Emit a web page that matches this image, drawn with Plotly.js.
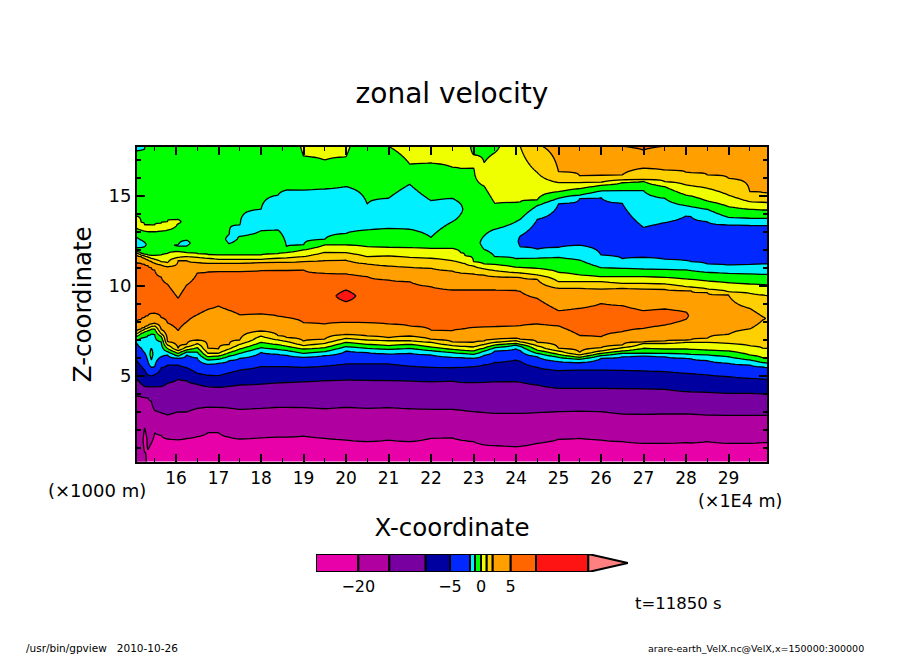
<!DOCTYPE html>
<html><head><meta charset="utf-8">
<script src="https://cdn.plot.ly/plotly-3.0.1.min.js"></script>
<style>html,body{margin:0;padding:0;background:#fff}</style></head>
<body><div id="chart" style="width:904px;height:654px"></div>
<script>
// x stations, units of 1E4 m
const stations=[15.05,15.18,15.26,15.34,15.42,15.5,15.65,15.8,16.05,16.25,16.5,16.75,17,17.25,17.5,18,18.4,18.6,19,19.5,20,20.5,21,21.5,22,22.5,22.7,22.8,23,23.25,23.5,24,24.1,24.5,25,25.5,26,26.5,27,27.5,28,28.12,28.5,29,29.5,29.8,29.95];
// contour levels of zonal velocity and their band colours
const levelValues=[-20,-15,-10,-5,-2,-1,0,1,2,5,10,20];
const bandColors=['#E800A8','#B000A0','#7800A0','#0000A0','#0028FF','#00F0FF','#00FF00','#F0FF00','#FFD000','#FF9F00','#FF6600','#FF1414','#FF8080'];
// contour-line heights (units of 1000 m) read at each station
const lineM20=[null,null,null,0.9,1.28,1.85,1.7,1.5,1.45,1.53,1.63,1.85,1.85,1.6,1.5,1.57,1.6,1.6,1.67,1.54,1.44,1.35,1.44,1.35,1.54,1.57,1.44,1.41,1.35,1.17,1.13,1.07,1.09,1.26,1.48,1.54,1.44,1.35,1.26,1.26,1.3,1.28,1.35,1.26,1.26,1.3,1.3];
const lineM15=[4.07,3.85,3.8,3.78,3.6,3.08,2.95,2.83,3.0,3.0,3.2,3.27,3.26,3.22,3.15,3.2,3.26,3.26,3.24,3.18,3.26,3.2,3.24,3.18,3.15,3.15,3.1,3.07,3.02,2.97,2.92,2.92,2.92,2.96,3.02,3.05,3.02,2.89,2.87,2.89,2.89,2.88,2.83,2.81,2.81,2.81,2.81];
const lineM10=[4.87,4.55,4.42,4.4,4.4,4.4,4.41,4.6,4.81,4.74,4.54,4.41,4.37,4.43,4.5,4.55,4.62,4.64,4.68,4.74,4.78,4.76,4.74,4.72,4.68,4.72,4.65,4.64,4.63,4.65,4.68,4.68,4.66,4.5,4.31,4.31,4.31,4.3,4.29,4.26,4.13,4.12,4.09,4.04,4.04,4.01,4.0];
const lineM5=[5.95,5.55,5.33,5.06,5.0,5.08,5.45,5.6,5.6,5.46,5.15,5.04,5.02,5.18,5.33,5.52,5.52,5.52,5.48,5.55,5.67,5.67,5.67,5.55,5.48,5.46,5.48,5.49,5.52,5.62,5.75,5.88,5.82,5.48,5.3,5.33,5.33,5.31,5.29,5.24,5.15,5.13,5.06,4.96,4.87,4.83,4.81];
const lineM2=[6.95,6.55,6.3,5.8,5.48,5.52,6.07,6.17,5.98,6.17,6.0,5.65,5.7,5.85,5.98,6.31,6.2,6.15,6.04,6.13,6.39,6.3,6.22,6.26,6.17,6.04,6.02,6.0,5.98,6.15,6.39,6.5,6.42,6.07,5.8,5.74,5.98,6.07,6.11,6.07,5.98,5.95,5.85,5.7,5.61,5.5,5.46];
const lineM1=[7.0,7.1,7.15,7.25,7.33,7.3,6.9,6.35,6.1,6.33,6.33,5.89,5.93,6.1,6.26,6.57,6.47,6.42,6.26,6.35,6.63,6.54,6.48,6.54,6.41,6.3,6.26,6.24,6.2,6.38,6.57,6.72,6.65,6.26,6.04,5.93,6.13,6.26,6.26,6.26,6.22,6.2,6.17,6.07,5.89,5.75,5.7];
const line0=[7.18,7.37,7.45,7.52,7.6,7.6,7.2,6.53,6.26,6.45,6.58,6.07,6.11,6.3,6.5,6.87,6.74,6.66,6.5,6.57,6.87,6.76,6.69,6.76,6.61,6.48,6.44,6.42,6.39,6.55,6.72,6.81,6.76,6.44,6.2,6.04,6.26,6.39,6.54,6.5,6.5,6.48,6.44,6.39,6.17,6.02,5.98];
const line1=[7.33,7.5,7.6,7.67,7.75,7.78,7.35,6.72,6.41,6.62,6.8,6.26,6.26,6.5,6.76,7.22,7.0,6.92,6.69,6.81,7.09,7.0,6.96,6.96,6.87,6.69,6.65,6.64,6.61,6.75,6.87,6.96,6.9,6.67,6.39,6.17,6.39,6.57,6.81,6.81,6.87,6.87,6.87,6.81,6.68,6.55,6.5];
const line2=[7.41,7.61,7.7,7.8,7.89,7.93,7.59,6.91,6.54,6.76,7.0,6.54,6.5,6.75,7.0,7.5,7.24,7.14,6.94,7.05,7.31,7.22,7.13,7.22,7.04,6.9,6.88,6.88,6.87,6.95,7.04,7.09,7.04,6.87,6.54,6.31,6.57,6.72,6.9,6.94,7.0,7.02,7.09,7.31,7.61,8.1,null];
const line5=[7.9,8.15,8.25,8.35,8.47,8.48,8.25,7.95,7.52,8.0,8.4,8.7,8.88,8.65,8.4,8.44,8.32,8.25,7.96,7.89,7.98,7.96,7.89,7.78,7.55,7.52,7.6,7.63,7.7,7.72,7.74,7.78,7.8,7.89,7.78,7.25,7.18,7.46,7.65,7.83,8.15,null,null,null,null,null,null];
const line5Upper=[11.35,11.25,11.2,11.14,11.02,10.88,10.5,10.1,9.32,10.05,10.72,10.78,10.8,10.8,10.8,10.85,10.87,10.87,10.89,10.7,10.67,10.52,10.33,10.24,9.96,9.78,9.78,9.78,9.78,9.78,9.78,9.75,9.7,9.31,8.63,8.76,9.02,8.91,8.63,8.72,8.55,null,null,null,null,null,null];
const line2Upper=[11.78,11.63,11.54,11.44,11.35,11.26,11.17,11.07,11.41,11.41,11.3,11.26,11.26,11.26,11.26,11.3,11.31,11.31,11.35,11.41,11.43,11.22,11.11,11.04,10.98,10.83,10.72,10.7,10.67,10.6,10.52,10.48,10.47,10.37,9.87,9.87,9.83,9.87,9.83,9.81,9.74,9.73,9.63,9.5,8.76,8.3,null];
const line1Upper=[11.85,11.72,11.67,11.61,11.54,11.48,11.35,11.3,11.59,11.63,11.59,11.54,11.48,11.48,11.48,11.48,11.54,11.56,11.63,11.87,11.85,11.63,11.67,11.59,11.54,11.41,11.3,11.24,11.11,10.95,10.85,10.74,10.72,10.61,10.24,10.24,10.24,10.15,10.15,10.11,9.96,9.94,9.83,9.68,9.59,9.5,9.46];
const line0Upper=[11.91,11.81,11.76,11.72,11.7,11.7,11.72,11.81,11.92,11.85,11.78,11.74,11.72,11.72,11.72,11.72,11.8,11.85,12.0,12.28,12.28,12.18,12.15,12.13,12.09,12.09,11.85,11.68,11.35,11.22,11.2,11.04,11.03,10.98,10.76,10.61,10.52,10.52,10.52,10.48,10.39,10.37,10.28,10.18,10.11,10.08,10.06];
// closed and partial features: stations, then lower and upper heights
const lensX=[15.26], lensLow=[0.78], lensHigh=[2.11];
const islandX=[15.42], islandLow=[5.89], islandHigh=[6.54];
const redX=[20], redLow=[9.13], redHigh=[9.78];
const wedgeX=[15.05,15.18,15.26], wedgeLow=[12.1,12.14,12.18], wedgeHigh=[12.74,12.55,12.42];
const cornerY=[17.5,17.55,17.6];
const dropX=[16.05,16.25], dropLow=[12.22,12.22], dropHigh=[12.3,12.55];
const yellowLeftX=[15.05,15.18,15.26,15.34,15.42,15.5,15.65,15.8,16.05];
const yellowLeftLow=[13.22,13.1,13.05,13.02,13.02,13.02,13.05,13.1,13.45];
const yellowLeftHigh=[13.9,13.55,13.4,13.4,13.39,13.4,13.48,13.57,13.7];
const cyanMidX=[17.25,17.5,18,18.4,18.6,19,19.5,20,20.5,21,21.5,22,22.5,22.7];
const cyanMidLow=[12.35,12.76,13.07,13.11,12.18,12.28,12.59,12.92,13.11,13.2,13.15,12.7,13.57,14.0];
const cyanMidHigh=[12.87,13.39,14.26,15.05,15.33,15.33,15.39,15.52,14.55,14.87,15.65,14.74,14.87,14.55];
const cyanRightX=[23.25,23.5,24,24.1,24.5,25,25.5,26,26.5,27,27.5,28,28.12,28.5,29,29.5,29.8,29.95];
const cyanRightLow=[12.03,11.63,11.52,11.53,11.55,11.59,11.44,11.02,10.98,10.94,10.92,10.89,10.85,10.76,10.7,10.67,10.65,10.65];
const cyanRightHigh=[12.78,13.15,13.57,13.7,14.46,14.87,15.05,15.28,15.3,15.3,14.87,14.46,14.41,14.26,13.81,13.76,13.76,13.76];
const blueX=[24.1,24.5,25,25.5,26,26.5,27,27.5,28,28.12,28.5,29,29.5,29.8,29.95];
const blueLow=[12.18,12.05,12.15,12.26,11.72,11.52,11.59,11.48,11.41,11.35,11.22,11.16,11.2,11.22,11.22];
const blueHigh=[12.78,13.7,14.57,14.85,14.91,14.59,13.26,13.52,13.89,13.85,13.57,13.39,13.37,13.35,13.35];
const topYellow1X=[19,19.5,20], topYellow1=[17.22,17.0,17.18];
const topYellow2X=[21,21.5,22,22.5,22.7,22.8,23], topYellow2=[17.76,16.77,16.83,16.6,16.53,16.53,16.55];
const greenCapX=[23,23.25,23.5], greenCap=[17.29,16.85,17.4];
const top0=[15.55,14.59,14.65,14.67,14.78,15.24,15.41,15.59,15.74,15.81,15.52,15.05,15,14.72,14.41,14.26,14.22,14.22];
const top1X=blueX, top1=[17.76,16.31,15.74,15.74,15.76,15.89,15.92,15.8,15.61,15.57,15.43,15.05,14.68,14.65,14.63];
const top2X=[24.5,25,25.5,26,26.5,27,27.5,28,28.12,28.5,29,29.5,29.8,29.95];
const top2=[17.9,16.35,16.11,16.15,16.17,16.54,16.44,16.31,16.3,16.17,15.98,15.24,15.18,15.15];
const top5X=[26.5,27,27.5], top5=[17.76,17.55,17.76];
// colour key
const keyEdges=[0,42.3,73.3,109.7,134,154,159,165,170.7,176.7,194.7,220,272.3];
const keyTip=312;
const keyTickPos=[42.3,134,165,194.7];
const keyTickText=['\u221220','\u22125','0','5'];
const xTicks=[16,17,18,19,20,21,22,23,24,25,26,27,28,29];
const yTicks=[5,10,15];

// [level index, direction going up, stations, heights]
const S=stations;
const contourLines=[
 [1,1,S,lineM20],[2,1,S,lineM15],[3,1,S,lineM10],[4,1,S,lineM5],[5,1,S,lineM2],[6,1,S,lineM1],[7,1,S,line0],[8,1,S,line1],[9,1,S,line2],[10,1,S,line5],
 [10,-1,S,line5Upper],[9,-1,S,line2Upper],[8,-1,S,line1Upper],[7,-1,S,line0Upper],
 [1,-1,lensX,lensLow],[1,1,lensX,lensHigh],[6,1,islandX,islandLow],[6,-1,islandX,islandHigh],[11,1,redX,redLow],[11,-1,redX,redHigh],
 [6,-1,wedgeX,wedgeLow],[6,1,wedgeX,wedgeHigh],[6,-1,wedgeX,cornerY],[6,-1,dropX,dropLow],[6,1,dropX,dropHigh],
 [7,1,yellowLeftX,yellowLeftLow],[7,-1,yellowLeftX,yellowLeftHigh],
 [6,-1,cyanMidX,cyanMidLow],[6,1,cyanMidX,cyanMidHigh],[6,-1,cyanRightX,cyanRightLow],[6,1,cyanRightX,cyanRightHigh],
 [5,-1,blueX,blueLow],[5,1,blueX,blueHigh],
 [7,1,topYellow1X,topYellow1],[7,1,topYellow2X,topYellow2],[7,-1,greenCapX,greenCap],
 [7,1,cyanRightX,top0],[8,1,top1X,top1],[9,1,top2X,top2],[10,1,top5X,top5]
];
const rows=[];for(let k=0;k<=712;k++)rows.push(+(0.1+k*0.025).toFixed(3));
function column(x){
  const c=[];
  contourLines.forEach(l=>{const i=l[2].indexOf(x);if(i>=0&&l[3][i]!==null)c.push({y:l[3][i],lev:l[0],up:l[1]});});
  c.sort((a,b)=>a.y-b.y);
  const ky=[0],kv=[c[0].lev-c[0].up*0.5];
  c.forEach((p,i)=>{ky.push(p.y);kv.push(p.lev);
    const n=c[i+1];
    if(n&&n.lev===p.lev){ky.push((p.y+n.y)/2);kv.push(p.lev+p.up*0.5);}
  });
  const last=c[c.length-1];ky.push(19);kv.push(last.lev+last.up*0.5);
  let j=0;
  return rows.map(y=>{while(j<ky.length-2&&y>ky[j+1])j++;return kv[j]+(kv[j+1]-kv[j])*(y-ky[j])/(ky[j+1]-ky[j]);});
}
const cols=stations.map(column);
const zGrid=rows.map((_,r)=>cols.map(col=>col[r]));
const n=bandColors.length;
const scale=[];bandColors.forEach((c,i)=>{scale.push([i/n,c]);scale.push([(i+1)/n,c]);});

const traces=[
 {type:'contour',x:stations,y:rows,z:zGrid,zmin:0,zmax:n,autocontour:false,
  contours:{type:'levels',start:1,end:levelValues.length,size:1,coloring:'fill',showlines:true},
  line:{color:'#000',width:1.3,smoothing:0},colorscale:scale,showscale:false,hoverinfo:'skip'},
 {type:'bar',orientation:'h',xaxis:'x2',yaxis:'y2',y:keyEdges.map(()=>0),base:keyEdges,
  x:keyEdges.map((e,i)=>(i<keyEdges.length-1?keyEdges[i+1]:e)-e),width:1,
  marker:{color:bandColors.slice(0,12),line:{color:'#000',width:2}},hoverinfo:'skip'},
 {type:'scatter',mode:'lines',xaxis:'x2',yaxis:'y2',x:[keyEdges[12],keyTip,keyEdges[12],keyEdges[12]],y:[0.5,0,-0.5,0.5],fill:'toself',
  fillcolor:bandColors[12],line:{color:'#000',width:2},hoverinfo:'skip'}
];
const W=904,H=654,FONT='"DejaVu Sans"';
const note=(text,px,py,size,anchor)=>({text,x:px/W,y:1-py/H,xref:'paper',yref:'paper',showarrow:false,xanchor:anchor||'left',yanchor:'middle',xshift:-1,font:{family:FONT,size,color:'#000'}});
const layout={width:W,height:H,margin:{l:0,r:0,t:0,b:0},paper_bgcolor:'#fff',plot_bgcolor:'#fff',showlegend:false,barmode:'overlay',
 font:{family:FONT,color:'#000'},
 title:{text:'zonal velocity',x:452/W,y:1-93/H,xanchor:'center',yanchor:'middle',font:{family:FONT,size:28,color:'#000'}},
 xaxis:{domain:[137/W,767/W],range:[15.082,29.906],tickvals:xTicks,ticktext:xTicks.map(String),ticks:'inside',ticklen:8,tickwidth:2,tickcolor:'#000',
  showline:true,linewidth:2,linecolor:'#000',mirror:'allticks',showgrid:false,zeroline:false,tickfont:{size:17},
  minor:{ticks:'inside',dtick:0.5,tick0:15,ticklen:4,tickwidth:1.2,tickcolor:'#000',showgrid:false},
  title:{text:'X-coordinate',font:{size:24.5},standoff:32}},
 yaxis:{domain:[(H-461.5)/H,(H-147)/H],range:[0.25,17.72],tickvals:yTicks,ticktext:yTicks.map(String),ticks:'inside',ticklen:8,tickwidth:2,tickcolor:'#000',
  showline:true,linewidth:2,linecolor:'#000',mirror:'allticks',showgrid:false,zeroline:false,tickfont:{size:18},
  minor:{ticks:'inside',dtick:1,tick0:0,ticklen:4,tickwidth:1.2,tickcolor:'#000',showgrid:false},
  title:{text:'Z-coordinate',font:{size:24.5},standoff:10}},
 xaxis2:{domain:[316/W,628/W],range:[0,keyTip],anchor:'y2',showgrid:false,zeroline:false,showline:false,ticks:'',tickvals:keyTickPos,ticktext:keyTickText,tickfont:{size:16},ticklabelstandoff:3},
 yaxis2:{domain:[(H-572)/H,(H-554)/H],range:[-0.5,0.5],anchor:'x2',visible:false},
 annotations:[
  note('(\u00d71000 m)',47,490,18),
  note('(\u00d71E4 m)',697,501,17.5),
  note('t=11850 s',634,603,16.5),
  note('/usr/bin/gpview\u00a0\u00a0\u00a02010-10-26',25,648,10.5),
  note('arare-earth_VelX.nc@VelX,x=150000:300000',867,648,9.5,'right')
 ]};
Plotly.newPlot('chart',traces,layout,{staticPlot:true,displayModeBar:false});
</script></body></html>
